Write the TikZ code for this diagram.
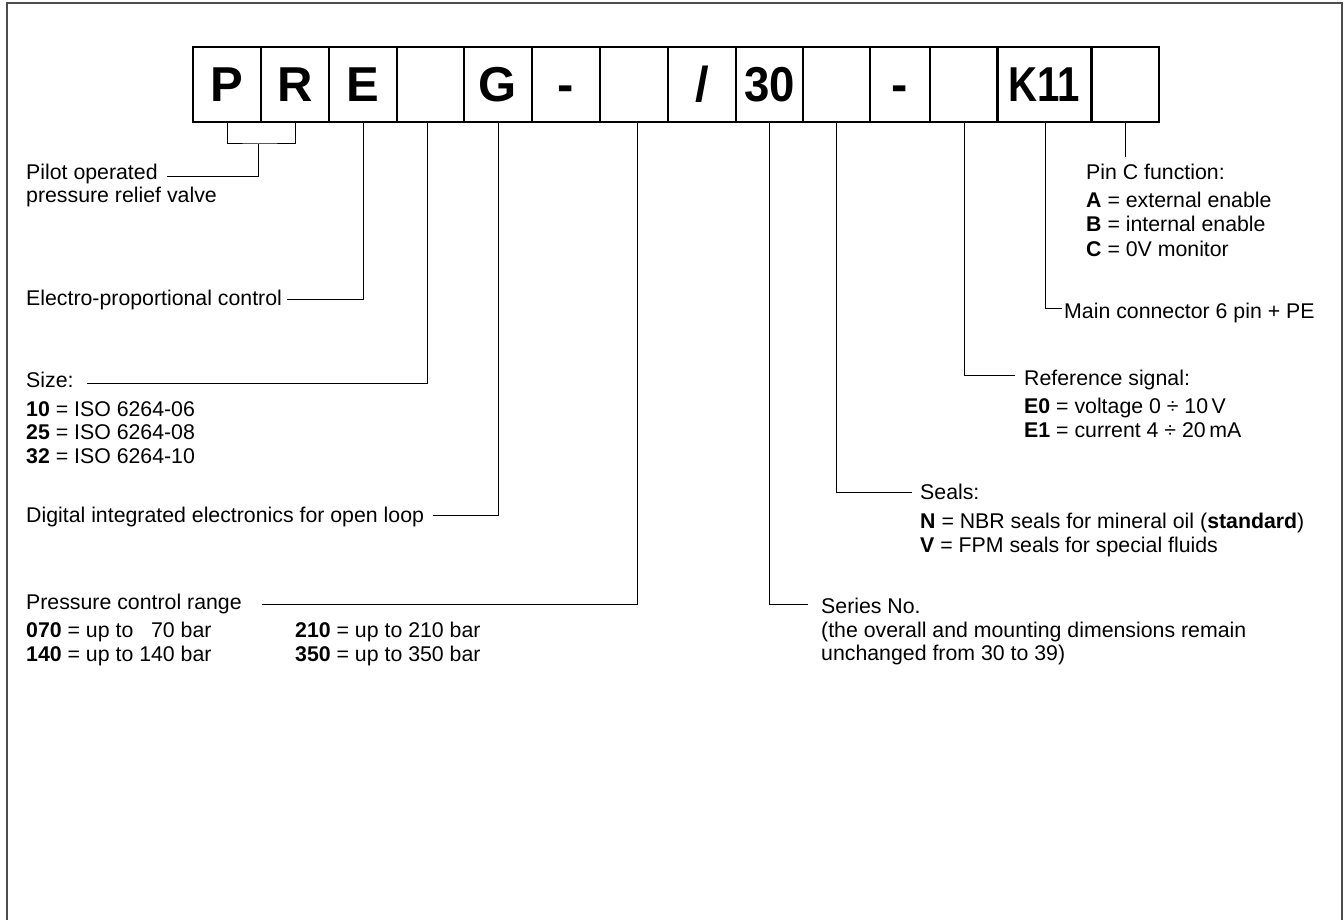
\documentclass[tikz,border=0pt]{standalone}
\usepackage{fontspec}
\setmainfont{Liberation Sans}
\begin{document}
\begin{tikzpicture}[x=1pt,y=-1pt,
  cellbox/.style={draw, line width=1.2pt, minimum height=75pt, inner sep=0pt,
    text height=35pt, text depth=0pt, font=\fontsize{49}{49}\selectfont\bfseries},
  lbl/.style={anchor=base west, inner sep=0pt, font=\fontsize{21.3}{24}\selectfont},
  conn/.style={line width=1pt, line join=miter}]
\useasboundingbox (0,0) rectangle (1344,920);
% outer frame
\draw[line width=2pt, black!70] (7,930) -- (7,3) -- (1342,3) -- (1342,930);

% code cells
\node[cellbox, minimum width=68pt] (c1)  at (227,84.5)    {P};
\node[cellbox, minimum width=68pt] (c2)  at (295,84.5)    {R};
\node[cellbox, minimum width=68pt] (c3)  at (363,84.5)    {E};
\node[cellbox, minimum width=67pt] (c4)  at (430.5,84.5)  {};
\node[cellbox, minimum width=68pt] (c5)  at (498,84.5)    {G};
\node[cellbox, minimum width=68pt] (c6)  at (566,84.5)    {-};
\node[cellbox, minimum width=68pt] (c7)  at (634,84.5)    {};
\node[cellbox, minimum width=68pt] (c8)  at (702,84.5)    {/};
\node[cellbox, minimum width=67pt] (c9)  at (769.5,84.5)  {\scalebox{0.93}[1]{30}};
\node[cellbox, minimum width=67pt] (c10) at (836.5,84.5)  {};
\node[cellbox, minimum width=60pt] (c11) at (900,84.5)    {-};
\node[cellbox, minimum width=68pt] (c12) at (964,84.5)    {};
\node[cellbox, minimum width=94pt] (c13) at (1044,84.5)   {\scalebox{0.82}[1]{K11}};
\node[cellbox, minimum width=67pt] (c14) at (1125.5,84.5) {};

% connector ends
\coordinate (kBrk)    at (258,144);
\coordinate (kPilot)  at (167,177);
\coordinate (kElec)   at (287,299);
\coordinate (kSize)   at (87,383);
\coordinate (kDig)    at (433,515);
\coordinate (kPress)  at (262,604);
\coordinate (kSeries) at (808,604);
\coordinate (kSeals)  at (912,492);
\coordinate (kRef)    at (1015,375);
\coordinate (kMain)   at (1062,308);
\coordinate (kPin)    at (1125.5,157);

% connectors
\draw[conn] (c1.south) |- (kBrk) -| (c2.south);
\draw[conn] (kBrk) |- (kPilot);
\draw[conn] (c3.south) |- (kElec);
\draw[conn] ([xshift=-3.5pt]c4.south) |- (kSize);
\draw[conn] (c5.south) |- (kDig);
\draw[conn] ([xshift=3pt]c7.south) |- (kPress);
\draw[conn] (c9.south) |- (kSeries);
\draw[conn] (c10.south) |- (kSeals);
\draw[conn] (c12.south) |- (kRef);
\draw[conn] ([xshift=1pt]c13.south) |- (kMain);
\draw[conn] (c14.south) -- (kPin);

% left labels
\node[lbl] (tPilotA) at (26,180) {Pilot operated};
\node[lbl] (tPilotB) at (26,203) {pressure relief valve};
\node[lbl] (tElec)   at (26,305) {Electro-proportional control};
\node[lbl] (tSize)   at (26,387) {Size:};
\node[lbl] (tSizeA)  at (26,416) {\textbf{10} = ISO 6264-06};
\node[lbl] (tSizeB)  at (26,439) {\textbf{25} = ISO 6264-08};
\node[lbl] (tSizeC)  at (26,463) {\textbf{32} = ISO 6264-10};
\node[lbl] (tDig)    at (26,522) {Digital integrated electronics for open loop};
\node[lbl] (tPress)  at (26,609) {Pressure control range};
\node[lbl] (tPressA) at (26,637) {\textbf{070} = up to \phantom{1}70 bar};
\node[lbl] (tPressB) at (26,661) {\textbf{140} = up to 140 bar};
\node[lbl] (tPressC) at (295,637) {\textbf{210} = up to 210 bar};
\node[lbl] (tPressD) at (295,661) {\textbf{350} = up to 350 bar};

% right labels
\node[lbl] (tPin)    at (1086,180) {Pin C function:};
\node[lbl] (tPinA)   at (1086,208) {\textbf{A} = external enable};
\node[lbl] (tPinB)   at (1086,232) {\textbf{B} = internal enable};
\node[lbl] (tPinC)   at (1086,256) {\textbf{C} = 0V monitor};
\node[lbl] (tMain)   at (1064,318) {Main connector 6 pin + PE};
\node[lbl] (tRef)    at (1024,385) {Reference signal:};
\node[lbl] (tRefA)   at (1024,413) {\textbf{E0} = voltage 0 ÷ 10\,V};
\node[lbl] (tRefB)   at (1024,437) {\textbf{E1} = current 4 ÷ 20\,mA};
\node[lbl] (tSeals)  at (920,499) {Seals:};
\node[lbl] (tSealsA) at (920,528) {\textbf{N} = NBR seals for mineral oil (\textbf{standard})};
\node[lbl] (tSealsB) at (920,552) {\textbf{V} = FPM seals for special fluids};
\node[lbl] (tSer)    at (821,613) {Series No.};
\node[lbl] (tSerA)   at (821,637) {(the overall and mounting dimensions remain};
\node[lbl] (tSerB)   at (821,660) {unchanged from 30 to 39)};
\end{tikzpicture}
\end{document}
